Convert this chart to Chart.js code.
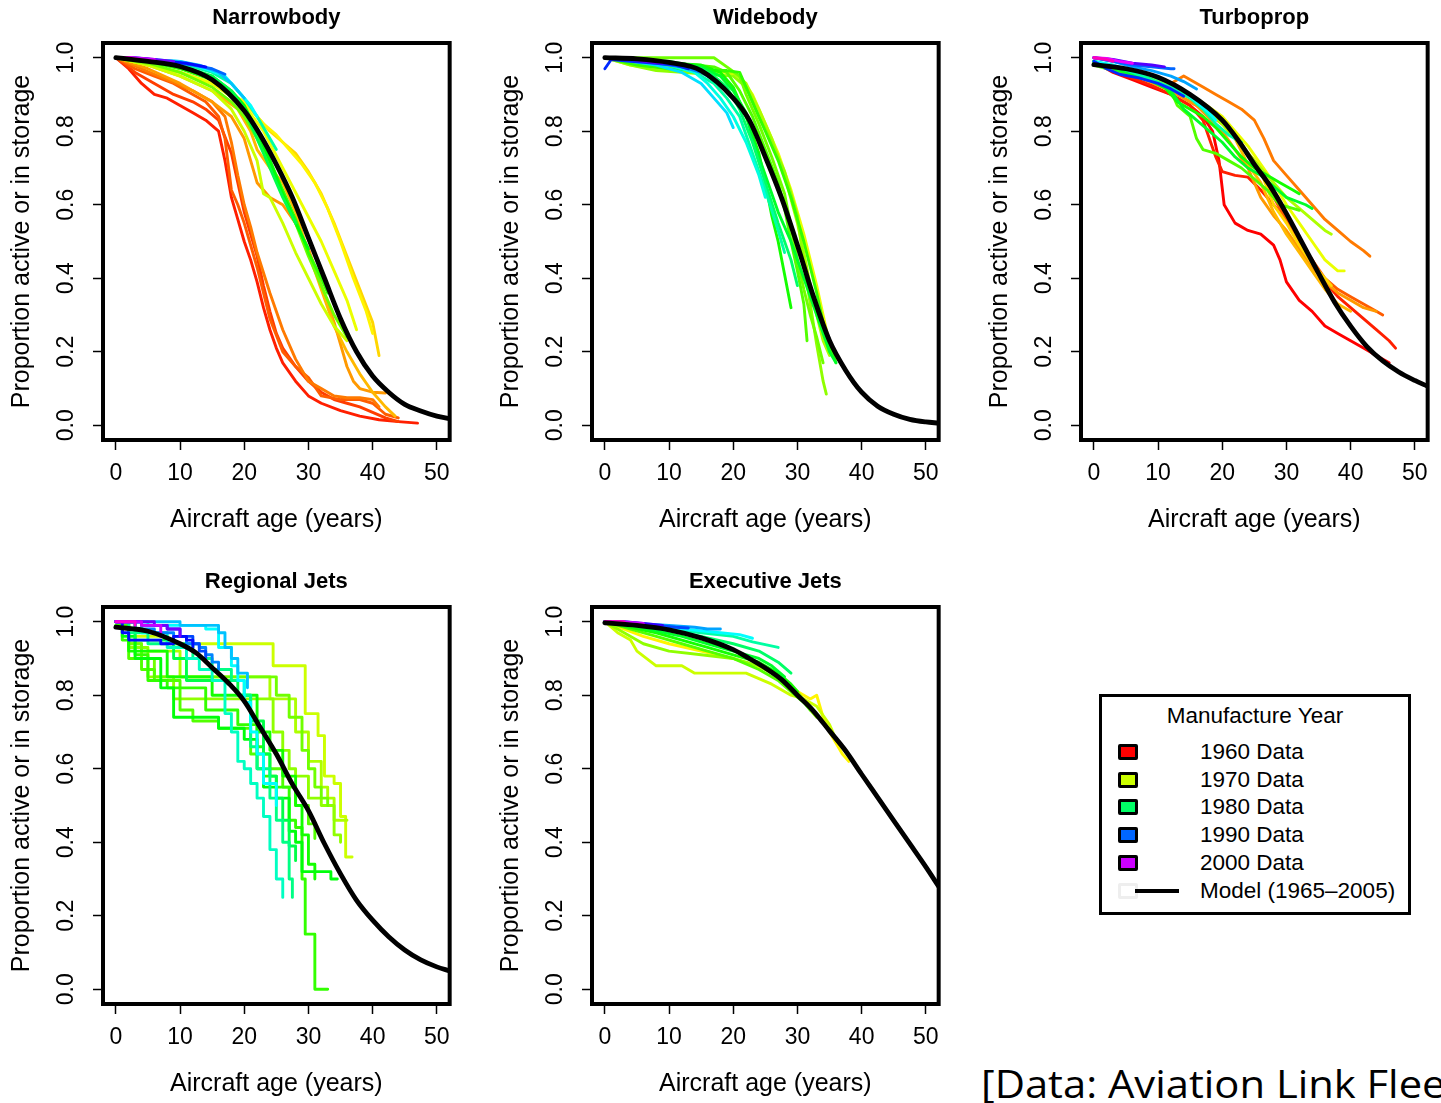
<!DOCTYPE html>
<html>
<head>
<meta charset="utf-8">
<script src="https://cdn.jsdelivr.net/npm/chart.js@4.4.1/dist/chart.umd.min.js"></script>
<style>
  body { margin: 0; background: #fff; width: 1441px; height: 1103px; overflow: hidden; position: relative; font-family: 'Liberation Sans', Arial, sans-serif; }
  .panel { position: absolute; width: 460px; height: 545px; }
  #legend { position: absolute; left: 1099px; top: 694px; width: 312px; height: 221px; box-sizing: border-box; border: 3px solid #000; }
  #legend .ttl { position: absolute; left: 0; right: 0; top: 6px; text-align: center; font-size: 22.5px; }
  #legend .row { position: absolute; left: 0; height: 26px; width: 100%; }
  #legend .sq { position: absolute; left: 16px; top: 4px; width: 20px; height: 16px; box-sizing: border-box; border: 3px solid #000; border-radius: 2px; }
  #legend .lbl { position: absolute; left: 98px; top: -1px; font-size: 22.5px; white-space: nowrap; }
  #legend .ln { position: absolute; left: 33px; top: 10px; width: 44px; height: 4px; background: #000; }
  #note { position: absolute; left: 981px; top: 1063px; font-family: 'Open Sans', sans-serif; font-size: 39px; line-height: 39px; white-space: nowrap; transform: scaleX(1.07); transform-origin: left top; }
</style>
</head>
<body>
<div class="panel" style="left:0px;top:0px"><canvas id="c1" width="460" height="545"></canvas></div>
<div class="panel" style="left:489px;top:0px"><canvas id="c2" width="460" height="545"></canvas></div>
<div class="panel" style="left:978px;top:0px"><canvas id="c3" width="460" height="545"></canvas></div>
<div class="panel" style="left:0px;top:564px"><canvas id="c4" width="460" height="545"></canvas></div>
<div class="panel" style="left:489px;top:564px"><canvas id="c5" width="460" height="545"></canvas></div>
<div id="legend"></div>
<div id="note">[Data: Aviation Link Fleet</div>
<script>
// tick values
const xTicks = [0, 10, 20, 30, 40, 50];
const yTicks = [0, 0.2, 0.4, 0.6, 0.8, 1.0];

// legend entries
const legendYears = ['1960 Data', '1970 Data', '1980 Data', '1990 Data', '2000 Data'];
const legendColors = ['#FF0000', '#CCFF00', '#00FF66', '#0066FF', '#CC00FF'];

// ---- Narrowbody ----
const narrowbodyModel = [[0,1.0],[5,0.99],[10,0.976],[15,0.94],[20,0.856],[22.5,0.79],[25,0.71],[27.5,0.62],[30,0.51],[32.5,0.40],[35,0.29],[37.5,0.20],[40,0.134],[42.5,0.09],[45,0.057],[47.5,0.039],[50,0.025],[52,0.018]];
const narrowbodyLines = [
  [1961, [[0,1.0],[2,0.97],[4,0.93],[6,0.90],[8,0.89],[10,0.87],[12,0.85],[14,0.83],[16,0.80],[17,0.72],[18,0.62],[19,0.56],[20,0.50],[21,0.45],[22,0.39],[23,0.32],[24,0.26],[25,0.21],[26,0.17],[28,0.12],[30,0.08],[32,0.06],[35,0.04],[38,0.025],[41,0.015],[44,0.01],[47,0.006]]],
  [1962, [[0,1.0],[3,0.96],[6,0.93],[9,0.90],[12,0.88],[14,0.86],[16,0.83],[18,0.74],[19,0.66],[20,0.58],[21,0.52],[22,0.46],[23,0.38],[24,0.31],[25,0.25],[26,0.21],[28,0.16],[30,0.12],[32,0.09],[34,0.07],[36,0.06],[38,0.05],[40,0.035],[42,0.02],[44,0.01]]],
  [1963, [[0,1.0],[3,0.97],[6,0.95],[9,0.93],[12,0.90],[14,0.88],[16,0.84],[17,0.78],[18,0.64],[19,0.60],[20,0.55],[22,0.43],[23,0.36],[24,0.29],[26,0.20],[28,0.16],[30,0.13],[32,0.08],[35,0.07],[38,0.07],[40,0.06],[42,0.03],[44,0.02]]],
  [1964, [[0,1.0],[4,0.97],[8,0.94],[12,0.91],[15,0.88],[17,0.84],[18,0.77],[19,0.68],[20,0.60],[21,0.54],[22,0.47],[24,0.36],[26,0.26],[28,0.18],[30,0.12],[32,0.10],[34,0.08],[36,0.075],[38,0.075],[40,0.07],[41,0.05]]],
  [1965, [[0,1.0],[5,0.97],[10,0.93],[15,0.88],[18,0.84],[20,0.78],[21,0.72],[22,0.66],[24,0.62],[26,0.60],[28,0.55],[30,0.48],[32,0.38],[34,0.28],[35,0.22],[36,0.16],[37,0.12],[38,0.10],[40,0.09],[42,0.088]]],
  [1966, [[0,1.0],[5,0.98],[10,0.95],[15,0.91],[19,0.86],[21,0.80],[22,0.75],[24,0.70],[26,0.66],[28,0.58],[30,0.47],[32,0.37],[34,0.27],[36,0.20],[38,0.14],[40,0.09],[42,0.05],[43.5,0.025]]],
  [1967, [[0,1.0],[5,0.98],[10,0.96],[15,0.93],[20,0.88],[22,0.84],[24,0.80],[26,0.77],[28,0.74],[30,0.69],[32,0.63],[34,0.55],[36,0.46],[38,0.37],[40,0.28],[41,0.19]]],
  [1968, [[0,1.0],[5,0.98],[10,0.96],[15,0.93],[20,0.88],[23,0.82],[25,0.79],[27,0.75],[29,0.71],[31,0.66],[33,0.59],[35,0.50],[37,0.40],[39,0.31],[40,0.25]]],
  [1969, [[0,1.0],[5,0.98],[10,0.96],[15,0.93],[20,0.87],[23,0.80],[26,0.70],[29,0.60],[32,0.50],[34,0.42],[36,0.34],[37.5,0.26]]],
  [1970, [[0,1.0],[5,0.98],[10,0.95],[15,0.91],[18,0.86],[20,0.80],[22,0.72],[23,0.63],[24,0.62],[26,0.55],[28,0.47],[30,0.40],[32,0.33],[34,0.27],[36,0.23]]],
  [1973, [[0,1.0],[5,0.985],[10,0.96],[15,0.92],[18,0.88],[20,0.84],[22,0.78],[24,0.71],[26,0.63],[28,0.55],[30,0.46],[32,0.38],[34,0.30],[36,0.24]]],
  [1975, [[0,1.0],[5,0.99],[10,0.97],[15,0.94],[18,0.90],[20,0.86],[22,0.80],[24,0.72],[26,0.64],[28,0.56],[30,0.47],[32,0.40],[33,0.36]]],
  [1977, [[0,1.0],[5,0.99],[10,0.975],[15,0.95],[18,0.91],[20,0.87],[22,0.80],[24,0.72],[26,0.63],[28,0.55],[30,0.48]]],
  [1979, [[0,1.0],[5,0.99],[10,0.98],[15,0.95],[18,0.91],[20,0.86],[22,0.78],[24,0.70],[26,0.62],[28,0.55]]],
  [1982, [[0,1.0],[5,0.995],[10,0.985],[15,0.96],[18,0.93],[20,0.89],[22,0.84],[24,0.78],[25,0.75]]],
  [1985, [[0,1.0],[5,0.995],[10,0.99],[14,0.97],[17,0.95],[19,0.91],[21,0.87],[22,0.84]]],
  [1987, [[0,1.0],[5,0.995],[10,0.99],[13,0.98],[16,0.96],[18,0.93],[20,0.89]]],
  [1990, [[0,1.0],[4,0.998],[8,0.99],[12,0.98],[15,0.97],[17,0.955]]],
  [1993, [[0,1.0],[4,0.998],[8,0.99],[11,0.985],[14,0.975]]],
  [1997, [[0,1.0],[3,1.0],[6,0.995],[9,0.99]]],
  [2000, [[0,1.0],[2,1.0],[4,0.998],[6,0.995]]],
  [2003, [[0,1.0],[2,1.0],[3,0.998]]]
];

// ---- Widebody ----
const widebodyModel = [[0,1.0],[5,0.997],[10,0.987],[15,0.965],[20,0.89],[22.5,0.83],[25,0.73],[27.5,0.62],[30,0.49],[32.5,0.35],[35,0.23],[37.5,0.15],[40,0.09],[42.5,0.052],[45,0.03],[47.5,0.016],[50,0.009],[52,0.006]];
const widebodyLines = [
  [1969, [[0,1.0],[4,0.98],[8,0.97],[12,0.965],[16,0.96],[19,0.96],[21,0.95],[23,0.90],[25,0.82],[27,0.74],[29,0.64],[31,0.52],[33,0.38],[34,0.30],[35,0.22],[36,0.18]]],
  [1971, [[0,1.0],[4,0.985],[8,0.975],[12,0.97],[16,0.965],[20,0.96],[22,0.93],[24,0.86],[26,0.78],[28,0.68],[30,0.55],[31,0.47],[32,0.38],[33,0.30],[34,0.23],[35,0.19]]],
  [1972, [[0,1.0],[4,0.98],[8,0.965],[12,0.96],[16,0.955],[20,0.95],[22,0.92],[24,0.84],[26,0.77],[28,0.69],[30,0.57],[31,0.44],[32,0.33],[33,0.22],[34,0.12],[34.5,0.085]]],
  [1973, [[0,1.0],[5,1.0],[10,1.0],[15,1.0],[17,1.0],[19,0.975],[21,0.95],[22,0.90],[24,0.82],[26,0.73],[28,0.63],[29,0.54],[30,0.45],[31,0.37],[32,0.30],[33,0.24],[34,0.17]]],
  [1974, [[0,1.0],[5,0.99],[10,0.985],[14,0.98],[17,0.975],[19,0.96],[21,0.91],[23,0.84],[25,0.75],[27,0.66],[28,0.59],[29,0.50],[30,0.42],[31,0.33],[31.5,0.23]]],
  [1975, [[0,1.0],[5,0.98],[10,0.97],[15,0.965],[19,0.965],[21,0.96],[23,0.88],[25,0.80],[27,0.72],[29,0.62],[31,0.50],[33,0.36],[34.5,0.24],[36,0.17]]],
  [1976, [[0,1.0],[5,0.99],[10,0.985],[15,0.98],[18,0.96],[20,0.92],[22,0.84],[24,0.74],[25,0.66],[26,0.57],[27,0.50],[28,0.41],[29,0.32]]],
  [1978, [[0,1.0],[5,0.995],[10,0.99],[15,0.975],[18,0.95],[20,0.91],[22,0.85],[23,0.78],[25,0.68],[27,0.58],[29,0.50],[31,0.40],[33,0.30],[35,0.20],[36,0.17]]],
  [1980, [[0,1.0],[5,0.99],[10,0.985],[15,0.97],[17,0.95],[19,0.92],[21,0.86],[23,0.77],[25,0.66],[27,0.55],[29,0.45],[30,0.38]]],
  [1982, [[0,1.0],[5,0.99],[10,0.98],[14,0.96],[17,0.93],[19,0.89],[21,0.84],[23,0.74],[25,0.64],[27,0.53],[28,0.47]]],
  [1984, [[0,1.0],[5,0.99],[10,0.98],[14,0.96],[16,0.93],[18,0.89],[20,0.84],[22,0.77],[24,0.68],[25,0.62]]],
  [1986, [[0,1.0],[4,0.99],[8,0.98],[12,0.96],[15,0.93],[17,0.89],[19,0.85],[20,0.81]]],
  [1989, [[0,1.0],[4,0.995],[8,0.985],[12,0.975],[15,0.96],[17,0.94]]],
  [1992, [[0,0.97],[1,0.995],[4,0.99],[8,0.985],[11,0.98],[13,0.97]]],
  [1996, [[0,1.0],[3,0.998],[6,0.99],[9,0.985]]],
  [2000, [[0,1.0],[2,1.0],[4,0.995]]]
];

// ---- Turboprop ----
const turbopropModel = [[0,0.981],[5,0.97],[10,0.947],[15,0.90],[20,0.83],[22.5,0.775],[25,0.71],[27.5,0.65],[30,0.576],[32.5,0.495],[35,0.414],[37.5,0.335],[40,0.27],[42.5,0.215],[45,0.175],[47.5,0.145],[50,0.122],[52,0.106]];
const turbopropLines = [
  [1960, [[0,0.99],[3,0.96],[6,0.94],[9,0.92],[12,0.90],[15,0.87],[17,0.84],[18.5,0.80],[19.5,0.72],[20.3,0.60],[22,0.55],[24,0.53],[26,0.52],[28,0.49],[29,0.45],[30,0.39],[32,0.34],[34,0.31],[36,0.27],[38,0.25],[40,0.23],[42,0.21],[44,0.19],[46,0.17]]],
  [1961, [[0,0.99],[3,0.97],[6,0.945],[9,0.925],[12,0.90],[15,0.87],[17,0.83],[19,0.73],[20,0.69],[22,0.68],[24,0.675],[26,0.64],[28,0.60],[30,0.56],[32,0.50],[34,0.45],[36,0.39],[38,0.35],[40,0.32],[42,0.29],[44,0.26],[46,0.23],[47,0.21]]],
  [1963, [[0,0.99],[4,0.97],[8,0.94],[12,0.91],[16,0.87],[20,0.82],[22,0.79],[24,0.74],[26,0.70],[28,0.62],[30,0.56],[32,0.50],[34,0.45],[36,0.40],[38,0.37],[40,0.35],[42,0.33],[44,0.31],[45,0.30]]],
  [1964, [[0,0.99],[4,0.97],[8,0.95],[12,0.93],[14,0.95],[17,0.92],[19,0.90],[21,0.88],[23,0.86],[25,0.83],[26.5,0.78],[28,0.72],[30,0.68],[32,0.64],[34,0.60],[36,0.56],[38,0.53],[40,0.50],[42,0.475],[43,0.46]]],
  [1965, [[0,0.99],[4,0.965],[8,0.94],[12,0.91],[16,0.87],[20,0.80],[22,0.75],[24,0.70],[26,0.62],[28,0.57],[30,0.53],[32,0.48],[34,0.43],[36,0.39],[38,0.36],[40,0.34],[42,0.32],[44,0.31]]],
  [1966, [[0,0.99],[4,0.97],[8,0.945],[12,0.92],[16,0.88],[20,0.82],[22,0.78],[24,0.71],[26,0.66],[28,0.58],[30,0.52],[32,0.47],[34,0.42],[36,0.37],[38,0.33],[40,0.31]]],
  [1967, [[0,0.99],[4,0.97],[8,0.95],[12,0.92],[16,0.88],[20,0.83],[22,0.79],[24,0.74],[26,0.69],[28,0.60],[30,0.55],[32,0.49],[34,0.44],[36,0.40],[37,0.38]]],
  [1969, [[0,0.99],[4,0.97],[8,0.95],[12,0.92],[16,0.89],[20,0.84],[24,0.76],[28,0.66],[30,0.60],[32,0.55],[34,0.50],[36,0.45],[38,0.42],[39,0.42]]],
  [1971, [[0,0.99],[4,0.97],[8,0.95],[12,0.92],[16,0.88],[20,0.82],[24,0.74],[28,0.66],[30,0.62],[32,0.59],[34,0.56],[36,0.53],[37,0.52]]],
  [1974, [[0,0.98],[4,0.96],[8,0.945],[12,0.91],[13,0.87],[15,0.84],[16,0.78],[17,0.75],[19,0.74],[21,0.72],[23,0.70],[25,0.67],[27,0.64],[29,0.60],[31,0.59],[32,0.585]]],
  [1976, [[0,0.99],[4,0.97],[8,0.95],[11,0.92],[13,0.88],[15,0.86],[17,0.84],[19,0.81],[21,0.77],[23,0.73],[25,0.70],[27,0.68],[29,0.66],[31,0.64],[32,0.63]]],
  [1978, [[0,0.99],[4,0.965],[8,0.945],[12,0.91],[14,0.86],[16,0.83],[18,0.80],[20,0.77],[22,0.73],[24,0.70],[26,0.68],[28,0.65],[30,0.62],[33,0.60],[34,0.59]]],
  [1982, [[0,0.99],[3,0.98],[6,0.96],[9,0.94],[12,0.92],[15,0.89],[17,0.86],[19,0.82],[21,0.79],[23,0.77]]],
  [1985, [[0,0.99],[3,0.98],[6,0.965],[9,0.95],[12,0.93],[14,0.91],[16,0.88],[18,0.85],[19,0.83]]],
  [1988, [[0,1.0],[3,0.99],[6,0.975],[9,0.965],[12,0.95],[14,0.935],[16,0.915]]],
  [1990, [[0,1.0],[3,0.99],[6,0.98],[9,0.975],[12,0.97],[12.5,0.97]]],
  [1992, [[0,0.99],[2,0.97],[4,0.955],[7,0.945],[10,0.93],[12,0.915],[14,0.895]]],
  [1996, [[0,1.0],[3,0.995],[6,0.985],[9,0.98],[11,0.975]]],
  [2001, [[0,1.0],[2,0.998],[4,0.99],[6,0.985]]],
  [2004, [[0,1.0],[2,0.995],[3,0.99]]]
];

// ---- Regional Jets (step curves) ----
const regionalModel = [[0,0.985],[5,0.974],[10,0.94],[12.5,0.915],[15,0.875],[17.5,0.834],[20,0.784],[22.5,0.712],[25,0.64],[27.5,0.558],[30,0.486],[32.5,0.396],[35,0.314],[37.5,0.242],[40,0.188],[42.5,0.143],[45,0.107],[47.5,0.08],[50,0.061],[52,0.05]];
const regionalLines = [
  [1970, [[0,1.0],[3,0.96],[8,0.94],[24.5,0.88],[29.5,0.75],[31.5,0.69],[32.5,0.58],[34,0.56],[35,0.47],[35.8,0.36],[36.8,0.36]]],
  [1971, [[0,1.0],[2,0.94],[4,0.92],[10,0.85],[20,0.85],[24,0.79],[27,0.79],[28,0.70],[30,0.62],[32,0.55],[33,0.52],[34,0.46],[36,0.46]]],
  [1972, [[0,1.0],[2,0.93],[5,0.85],[7,0.85],[9,0.79],[20,0.79],[24.5,0.70],[26,0.65],[27,0.60],[28,0.58],[30,0.52],[32,0.50],[34,0.42],[35,0.40]]],
  [1973, [[0,1.0],[2,0.94],[4,0.90],[6,0.85],[24.5,0.85],[25,0.80],[27,0.74],[29,0.65],[30,0.60],[31,0.55],[32,0.52],[33,0.50]]],
  [1974, [[0,0.99],[2,0.90],[4,0.87],[6,0.84],[10,0.76],[12,0.73],[16,0.71],[21,0.64],[24,0.60],[26,0.55],[28,0.50],[30,0.45],[31,0.41]]],
  [1975, [[0,0.99],[1,0.95],[3,0.91],[5,0.84],[8,0.82],[14,0.76],[19,0.72],[22,0.66],[23,0.58],[25,0.55],[27,0.46],[28,0.44],[29,0.30],[29.5,0.15],[31,0.0],[33,0.0]]],
  [1976, [[0,1.0],[2,0.92],[8,0.85],[15,0.80],[22,0.70],[24,0.65],[26,0.58],[28,0.50],[29,0.42],[30,0.34],[31,0.30]]],
  [1977, [[0,1.0],[1,0.96],[3,0.90],[7,0.82],[9,0.74],[16,0.71],[20,0.68],[22,0.60],[23,0.55],[25,0.52],[27,0.43],[28,0.40],[29,0.32],[33.5,0.30],[34.5,0.30]]],
  [1979, [[0,1.0],[3,0.95],[9,0.90],[11,0.84],[19,0.80],[21,0.73],[23,0.64],[24,0.58],[25,0.52],[26,0.46],[27,0.39],[28,0.35]]],
  [1981, [[0,1.0],[2,0.97],[5,0.94],[12,0.90],[15,0.87],[18,0.84],[20,0.80],[21,0.66],[22,0.60],[24,0.52],[25,0.46],[26,0.40],[27,0.30],[27.5,0.25]]],
  [1983, [[0,1.0],[4,0.97],[8,0.93],[11,0.90],[13,0.87],[15,0.84],[17,0.75],[18,0.70],[19,0.62],[20,0.60],[21,0.56],[22,0.52],[23,0.47],[24,0.38],[25,0.30],[26,0.25]]],
  [1985, [[0,1.0],[5,0.99],[14,0.98],[16,0.93],[18,0.88],[19,0.84],[20,0.78],[21,0.70],[22,0.64],[23,0.56],[25,0.50]]],
  [1987, [[0,1.0],[10,0.99],[16,0.97],[17,0.93],[18,0.90],[19,0.86],[20.5,0.82]]],
  [1989, [[0,1.0],[3,0.98],[6,0.97],[9,0.96],[11,0.94],[13,0.93],[14,0.91],[15,0.89],[16,0.87]]],
  [1991, [[0,1.0],[4,0.99],[8,0.98],[10,0.96],[12,0.94],[13,0.92],[14,0.90]]],
  [1993, [[0,1.0],[1,0.97],[2,0.95],[7,0.94],[9,0.96],[11,0.95],[12,0.93]]],
  [1997, [[0,1.0],[3,1.0],[6,0.99],[8,0.98],[10,0.96]]],
  [2000, [[0,1.0],[4,0.99],[6,0.99],[7,0.97]]],
  [2003, [[0,1.0],[2,1.0],[3,0.99]]]
];

// ---- Executive Jets ----
const executiveModel = [[0,0.997],[5,0.99],[10,0.978],[15,0.956],[20,0.924],[22.5,0.90],[25,0.874],[27.5,0.843],[30,0.80],[32.5,0.757],[35,0.703],[37.5,0.649],[40,0.585],[42.5,0.522],[45,0.459],[47.5,0.396],[50,0.333],[52,0.28]];
const executiveLines = [
  [1968, [[0,1.0],[3,0.98],[6,0.96],[10,0.94],[15,0.92],[20,0.90],[25,0.87],[28,0.84],[30,0.81],[32,0.79],[33,0.80],[34,0.74],[35,0.70],[36,0.67],[37,0.64],[38,0.62]]],
  [1970, [[0,1.0],[2,0.97],[4,0.95],[5,0.92],[8,0.88],[12,0.88],[14,0.86],[18,0.86],[22,0.86],[26,0.83],[29,0.80],[31,0.79],[33,0.77],[35,0.72],[36,0.68]]],
  [1972, [[0,1.0],[3,0.97],[6,0.94],[10,0.92],[15,0.91],[20,0.90],[24,0.88],[27,0.85],[30,0.81],[32,0.76],[33,0.74]]],
  [1974, [[0,1.0],[4,0.98],[8,0.96],[12,0.94],[16,0.92],[20,0.90],[24,0.87],[27,0.84],[29,0.81],[31,0.78],[32,0.76]]],
  [1976, [[0,1.0],[4,0.985],[8,0.97],[12,0.95],[16,0.93],[20,0.91],[24,0.89],[27,0.86],[29,0.83],[30,0.81]]],
  [1978, [[0,1.0],[4,0.99],[8,0.975],[12,0.96],[16,0.94],[20,0.92],[24,0.90],[26,0.88],[28,0.85]]],
  [1980, [[0,1.0],[5,0.99],[10,0.975],[15,0.96],[20,0.94],[24,0.92],[27,0.89],[29,0.86]]],
  [1982, [[0,1.0],[5,0.99],[10,0.98],[15,0.97],[20,0.96],[23,0.945],[27,0.93]]],
  [1985, [[0,1.0],[5,0.995],[10,0.985],[15,0.975],[18,0.97],[21,0.965],[23,0.955]]],
  [1988, [[0,1.0],[5,0.995],[10,0.99],[14,0.985],[16,0.98],[18,0.98]]],
  [1991, [[0,1.0],[4,0.998],[8,0.99],[11,0.985],[13,0.983]]],
  [1995, [[0,1.0],[3,1.0],[6,0.995],[9,0.99]]],
  [2000, [[0,1.0],[2,1.0],[4,0.998],[6,0.995]]],
  [2004, [[0,1.0],[2,1.0],[3,1.0]]]
];

Chart.defaults.font.family = "'Liberation Sans', Arial, sans-serif";
Chart.defaults.color = '#000';

// R rainbow-ish colour by manufacture year
function yearColor(year) {
  const hue = (year - 1960) * 7.2;
  return `hsl(${hue}, 100%, 50%)`;
}

const boxPlugin = {
  id: 'box',
  afterDraw(chart) {
    const { ctx, chartArea: a } = chart;
    ctx.save();
    ctx.lineWidth = 4;
    ctx.strokeStyle = '#000';
    ctx.strokeRect(a.left, a.top, a.right - a.left, a.bottom - a.top);
    ctx.restore();
  }
};

function makePanel(id, title, model, lines, stepped) {
  const datasets = [{
    data: model.map(p => ({ x: p[0], y: p[1] })),
    borderColor: '#000',
    borderWidth: 4.8,
    cubicInterpolationMode: 'monotone',
    order: 0
  }];
  lines.forEach(([year, pts]) => {
    datasets.push({
      data: pts.map(p => ({ x: p[0], y: p[1] })),
      borderColor: yearColor(year),
      borderWidth: 2.9,
      stepped: stepped,
      order: 2100 - year
    });
  });

  new Chart(document.getElementById(id), {
    type: 'scatter',
    data: { datasets },
    options: {
      responsive: false,
      animation: false,
      showLine: true,
      elements: { point: { radius: 0 }, line: { tension: 0, borderCapStyle: 'round', borderJoinStyle: 'round' } },
      layout: { padding: { left: 0, right: 9, top: 0, bottom: 0 } },
      plugins: {
        legend: { display: false },
        tooltip: { enabled: false },
        title: { display: true, fullSize: false, text: title, font: { size: 22, weight: 'bold' }, padding: { top: 5, bottom: 11.6 } }
      },
      scales: {
        x: {
          type: 'linear', min: -2, max: 52,
          afterBuildTicks: s => { s.ticks = xTicks.map(v => ({ value: v })); },
          afterFit: s => { s.height = 105; },
          grid: { drawOnChartArea: false, drawTicks: true, tickLength: 10, tickWidth: 1.5, tickColor: '#000' },
          border: { display: false },
          ticks: { font: { size: 23 }, padding: 10, maxRotation: 0, autoSkip: false },
          title: { display: true, text: 'Aircraft age (years)', font: { size: 25 }, padding: { top: 0, bottom: 10 } }
        },
        y: {
          type: 'linear', min: -0.04, max: 1.04,
          afterBuildTicks: s => { s.ticks = yTicks.map(v => ({ value: v })); },
          afterFit: s => { s.width = 103; },
          grid: { drawOnChartArea: false, drawTicks: true, tickLength: 10, tickWidth: 1.5, tickColor: '#000' },
          border: { display: false },
          ticks: { font: { size: 23 }, padding: 10, minRotation: 90, maxRotation: 90, crossAlign: 'center', autoSkip: false, callback: v => v.toFixed(1) },
          title: { display: true, text: 'Proportion active or in storage', font: { size: 25 }, padding: { top: 7, bottom: 0 } }
        }
      }
    },
    plugins: [boxPlugin]
  });
}

makePanel('c1', 'Narrowbody', narrowbodyModel, narrowbodyLines, false);
makePanel('c2', 'Widebody', widebodyModel, widebodyLines, false);
makePanel('c3', 'Turboprop', turbopropModel, turbopropLines, false);
makePanel('c4', 'Regional Jets', regionalModel, regionalLines, true);
makePanel('c5', 'Executive Jets', executiveModel, executiveLines, false);

// legend (HTML)
const legend = document.getElementById('legend');
let html = '<div class="ttl">Manufacture Year</div>';
legendYears.forEach((label, i) => {
  const top = 43 + i * 27.7;
  html += `<div class="row" style="top:${top}px"><div class="sq" style="background:${legendColors[i]}"></div><div class="lbl">${label}</div></div>`;
});
html += `<div class="row" style="top:${43 + 5 * 27.7}px"><div class="sq" style="border-color:#eee;background:#fff"></div><div class="ln"></div><div class="lbl">Model (1965\u20132005)</div></div>`;
legend.innerHTML = html;
</script>
</body>
</html>
